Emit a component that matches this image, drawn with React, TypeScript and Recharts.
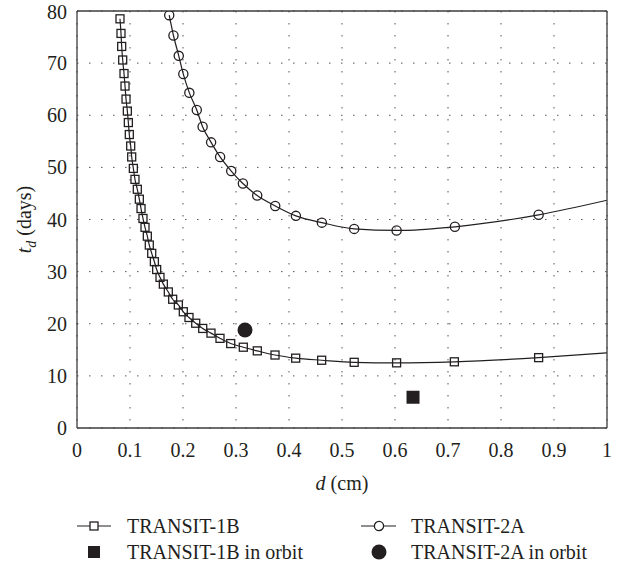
import React from 'react'
import {
  ComposedChart,
  Line,
  Scatter,
  XAxis,
  YAxis,
  CartesianGrid,
} from 'recharts'

const xTicks = [0, 0.1, 0.2, 0.3, 0.4, 0.5, 0.6, 0.7, 0.8, 0.9, 1]
const yTicks = [0, 10, 20, 30, 40, 50, 60, 70, 80]

// TRANSIT-1B, marker positions (d in cm, t_d in days)
const d1B = [
  0.0811, 0.083, 0.0843, 0.0862, 0.0887, 0.0906, 0.0925, 0.095, 0.0969, 0.0987,
  0.1013, 0.1032, 0.1063, 0.1094, 0.1138, 0.1176, 0.1208, 0.1245, 0.1283, 0.1327,
  0.1364, 0.141, 0.146, 0.1503, 0.1566, 0.1629, 0.1723, 0.1805, 0.1912, 0.2006,
  0.2113, 0.224, 0.2372, 0.2528, 0.2698, 0.29, 0.3138, 0.3402, 0.3736, 0.4126,
  0.4616, 0.523, 0.603, 0.712, 0.871,
]
const t1B = [
  78.5, 75.7, 73.2, 70.6, 68.0, 65.6, 63.1, 60.8, 58.6, 56.3,
  54.1, 52.0, 49.8, 47.7, 45.8, 43.9, 42.1, 40.2, 38.5, 36.8,
  35.1, 33.5, 31.9, 30.4, 28.9, 27.6, 26.1, 24.7, 23.6, 22.3,
  21.2, 20.1, 19.1, 18.2, 17.2, 16.2, 15.5, 14.8, 14.0, 13.4,
  13.0, 12.6, 12.5, 12.7, 13.5,
]

// TRANSIT-2A, marker positions
const d2A = [
  0.174, 0.182, 0.192, 0.2006, 0.212, 0.226, 0.237, 0.253, 0.27, 0.291,
  0.313, 0.34, 0.374, 0.413, 0.462, 0.523, 0.603, 0.713, 0.871,
]
const t2A = [
  79.2, 75.3, 71.4, 67.9, 64.3, 61.0, 57.8, 54.8, 52.0, 49.3,
  46.9, 44.6, 42.6, 40.7, 39.4, 38.2, 37.9, 38.6, 40.9,
]

// the curves run on to the right edge without a marker
const endD = [1, 1]
const endT = [14.4, 43.7]

// in-orbit measurements
const orbitD1B = [0.634]
const orbitT1B = [5.9]
const orbitD2A = [0.317]
const orbitT2A = [18.8]

const legendNames = ['TRANSIT-1B', 'TRANSIT-2A', 'TRANSIT-1B in orbit', 'TRANSIT-2A in orbit']

const series1B = d1B
  .map((d, i) => ({ d, t: t1B[i], mark: true }))
  .concat({ d: endD[0], t: endT[0], mark: false })
const series2A = d2A
  .map((d, i) => ({ d, t: t2A[i], mark: true }))
  .concat({ d: endD[1], t: endT[1], mark: false })
const orbit1B = orbitD1B.map((d, i) => ({ d, t: orbitT1B[i] }))
const orbit2A = orbitD2A.map((d, i) => ({ d, t: orbitT2A[i] }))

const INK = '#231f20'
const AXIS = '#3c3c3c'
const FONT = '"Liberation Serif"'

const squareDot = (p: any) =>
  p.payload?.mark ? (
    <rect key={`s${p.index}`} x={p.cx - 4} y={p.cy - 4} width={8} height={8}
      fill="none" stroke={INK} strokeWidth={1.3} />
  ) : (
    <g key={`s${p.index}`} />
  )

const circleDot = (p: any) =>
  p.payload?.mark ? (
    <circle key={`c${p.index}`} cx={p.cx} cy={p.cy} r={4.6}
      fill="none" stroke={INK} strokeWidth={1.3} />
  ) : (
    <g key={`c${p.index}`} />
  )

function XLabel({ viewBox }: any) {
  const { x, width, y } = viewBox
  return (
    <text x={x + width / 2} y={y + 62} textAnchor="middle" style={{ fontFamily: FONT }}
      fontSize={20} fill={INK}>
      <tspan fontStyle="italic">d</tspan> (cm)
    </text>
  )
}

function YLabel({ viewBox }: any) {
  const { y, height } = viewBox
  const cx = 31
  const cy = y + height / 2
  return (
    <text x={cx} y={cy} transform={`rotate(-90 ${cx} ${cy})`} textAnchor="middle"
      style={{ fontFamily: FONT }} fontSize={20} fill={INK}>
      <tspan fontStyle="italic">t</tspan>
      <tspan fontStyle="italic" fontSize={14} dy={5}>d</tspan>
      <tspan dy={-5}> (days)</tspan>
    </text>
  )
}

function ChartLegend() {
  const text = { style: { fontFamily: FONT }, fontSize: 20, fill: INK }
  return (
    <svg width={619} height={60} style={{ position: 'absolute', left: 0, top: 507 }}>
      <g transform="translate(0,19)">
        <line x1={77} x2={111} y1={0} y2={0} stroke={INK} strokeWidth={1.2} />
        <rect x={90} y={-4} width={8} height={8} fill="#fff" stroke={INK} strokeWidth={1.3} />
        <text x={127} y={7} {...text}>{legendNames[0]}</text>
        <line x1={361} x2={396} y1={0} y2={0} stroke={INK} strokeWidth={1.2} />
        <circle cx={379} cy={0} r={4.6} fill="#fff" stroke={INK} strokeWidth={1.3} />
        <text x={411} y={7} {...text}>{legendNames[1]}</text>
      </g>
      <g transform="translate(0,45)">
        <rect x={88} y={-6} width={12} height={12} fill={INK} />
        <text x={127} y={7} {...text}>{legendNames[2]}</text>
        <circle cx={379} cy={0} r={7.5} fill={INK} />
        <text x={411} y={7} {...text}>{legendNames[3]}</text>
      </g>
    </svg>
  )
}

export default function App() {
  const tickStyle = { fontSize: 20, fill: INK, style: { fontFamily: FONT } }
  return (
    <div style={{ position: 'absolute', left: 0, top: 0, width: 619, height: 567, background: '#fff' }}>
      <ComposedChart width={619} height={567} margin={{ top: 11, right: 12, left: 0, bottom: 109 }}>
        <CartesianGrid xAxisId="x" yAxisId="y" stroke="#555" strokeDasharray="1.5 10.5" />
        <XAxis xAxisId="x" type="number" dataKey="d" domain={[0, 1]} ticks={xTicks}
          allowDataOverflow tickLine={false} tickSize={0} tickMargin={15} height={30}
          axisLine={{ stroke: AXIS, strokeWidth: 1.3 }} tick={tickStyle} label={<XLabel />} />
        <XAxis xAxisId="xb" type="number" domain={[0, 1]} ticks={xTicks} allowDataOverflow
          mirror tick={false} tickSize={5} tickLine={{ stroke: AXIS }} axisLine={false} />
        <XAxis xAxisId="xt" orientation="top" type="number" domain={[0, 1]} ticks={xTicks}
          allowDataOverflow mirror tick={false} tickSize={5} tickLine={{ stroke: AXIS }}
          axisLine={{ stroke: AXIS, strokeWidth: 1.3 }} />
        <YAxis yAxisId="y" type="number" dataKey="t" domain={[0, 80]} ticks={yTicks}
          allowDataOverflow width={77} tickLine={false} tickSize={0} tickMargin={10}
          axisLine={{ stroke: AXIS, strokeWidth: 1.3 }} tick={tickStyle} label={<YLabel />} />
        <YAxis yAxisId="yl" type="number" domain={[0, 80]} ticks={yTicks} allowDataOverflow
          mirror tick={false} tickSize={5} tickLine={{ stroke: AXIS }} axisLine={false} />
        <YAxis yAxisId="yr" orientation="right" type="number" domain={[0, 80]} ticks={yTicks}
          allowDataOverflow mirror tick={false} tickSize={5} tickLine={{ stroke: AXIS }}
          axisLine={{ stroke: AXIS, strokeWidth: 1.3 }} />
        <Line xAxisId="x" yAxisId="y" data={series1B} dataKey="t" type="monotone"
          stroke={INK} strokeWidth={1.2} dot={squareDot} activeDot={false}
          isAnimationActive={false} name={legendNames[0]} />
        <Line xAxisId="x" yAxisId="y" data={series2A} dataKey="t" type="monotone"
          stroke={INK} strokeWidth={1.2} dot={circleDot} activeDot={false}
          isAnimationActive={false} name={legendNames[1]} />
        <Scatter xAxisId="x" yAxisId="y" data={orbit1B} dataKey="t" isAnimationActive={false}
          name={legendNames[2]}
          shape={(p: any) => <rect x={p.cx - 6.5} y={p.cy - 6.5} width={13} height={13} fill={INK} />} />
        <Scatter xAxisId="x" yAxisId="y" data={orbit2A} dataKey="t" isAnimationActive={false}
          name={legendNames[3]}
          shape={(p: any) => <circle cx={p.cx} cy={p.cy} r={7.5} fill={INK} />} />
      </ComposedChart>
      <ChartLegend />
    </div>
  )
}
